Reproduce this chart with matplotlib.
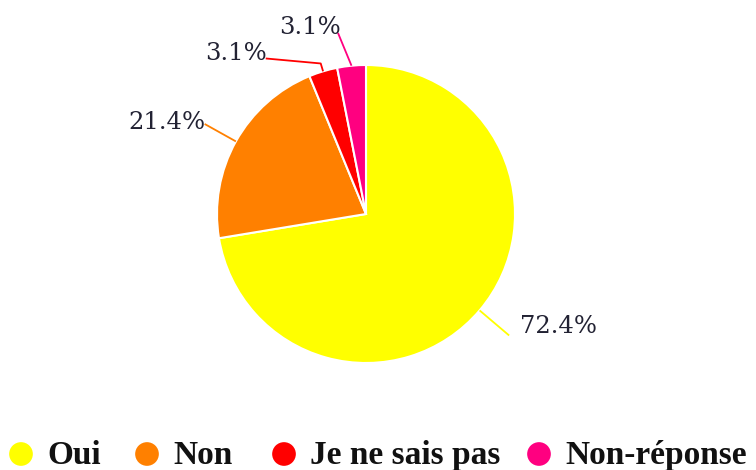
import matplotlib
matplotlib.use("Agg")
import matplotlib.pyplot as plt
import numpy as np

categories = ["Oui", "Non", "Je ne sais pas", "Non-réponse"]
values = [72.4, 21.4, 3.1, 3.1]
labels = ["72.4%", "21.4%", "3.1%", "3.1%"]
colors = ["#FFFF00", "#FF8000", "#FF0000", "#FF0080"]

W, H = 756, 470
fig = plt.figure(figsize=(W / 100, H / 100), dpi=100)
ax = fig.add_axes([0, 0, 1, 1])

cx, cy, R = 366, H - 214, 149
wedges, _ = ax.pie(values, colors=colors, startangle=90, counterclock=False,
                   center=(cx, cy), radius=R, frame=True,
                   wedgeprops=dict(edgecolor="white", linewidth=1.5))
ax.set_xlim(0, W)
ax.set_ylim(0, H)
ax.set_aspect("equal")
ax.axis("off")

layout = [
    dict(path=[("r", 1.26)], txt=(11, 9), ha="left"),
    dict(path=[("r", 1.24)], txt=(1, 1), ha="right"),
    dict(path=[("r", 1.055), ("d", (-55, 5))], txt=(1, 5), ha="right"),
    dict(path=[("d", (-13.5, 32.7))], txt=(3, 6), ha="right"),
]

label_font = dict(family="DejaVu Serif", size=17.5, color="#222233")
for w, lab, col, lay in zip(wedges, labels, colors, layout):
    th = np.deg2rad((w.theta1 + w.theta2) / 2)
    d = np.array([np.cos(th), np.sin(th)])
    pts = [np.array([cx, cy]) + R * d]
    for kind, v in lay["path"]:
        if kind == "r":
            pts.append(np.array([cx, cy]) + R * v * d)
        else:
            pts.append(pts[-1] + np.array(v))
    pts = np.array(pts)
    ax.plot(pts[:, 0], pts[:, 1], color=col, lw=1.3, solid_capstyle="butt", zorder=1)
    end = pts[-1]
    ax.text(end[0] + lay["txt"][0], end[1] + lay["txt"][1], lab, ha=lay["ha"],
            va="center", **label_font)

# legend, laid out manually (text start x positions in pixels)
legend_x = [47, 173, 310, 565]
for cat, col, tx in zip(categories, colors, legend_x):
    ax.scatter([tx - 26], [H - 454], s=23 ** 2 * 0.55, color=col, edgecolors="none", clip_on=False)
    ax.text(tx, H - 464, cat, ha="left", va="baseline",
            family="Liberation Serif", weight="bold", size=24, color="#111111")

fig.savefig("out.png", dpi=100)
